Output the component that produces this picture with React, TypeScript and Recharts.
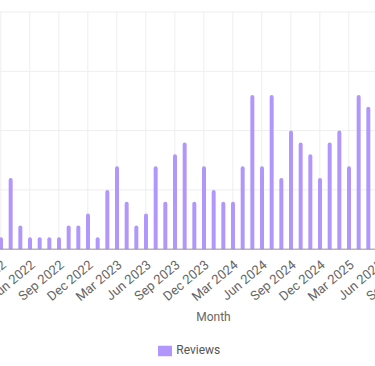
import React from 'react';
import { BarChart, Bar, XAxis, YAxis, CartesianGrid, Legend } from 'recharts';

const months = [
  'Mar 2022', 'Apr 2022', 'May 2022', 'Jun 2022', 'Jul 2022', 'Aug 2022', 'Sep 2022', 'Oct 2022', 'Nov 2022', 'Dec 2022',
  'Jan 2023', 'Feb 2023', 'Mar 2023', 'Apr 2023', 'May 2023', 'Jun 2023', 'Jul 2023', 'Aug 2023', 'Sep 2023', 'Oct 2023', 'Nov 2023', 'Dec 2023',
  'Jan 2024', 'Feb 2024', 'Mar 2024', 'Apr 2024', 'May 2024', 'Jun 2024', 'Jul 2024', 'Aug 2024', 'Sep 2024', 'Oct 2024', 'Nov 2024', 'Dec 2024',
  'Jan 2025', 'Feb 2025', 'Mar 2025', 'Apr 2025', 'May 2025', 'Jun 2025', 'Jul 2025', 'Aug 2025', 'Sep 2025', 'Oct 2025', 'Nov 2025',
];

const reviews = [
  1, 6, 2, 1, 1, 1, 1, 2, 2, 3,
  1, 5, 7, 4, 2, 3, 7, 4, 8, 9, 4, 7,
  5, 4, 4, 7, 13, 7, 13, 6, 10, 9, 8, 6,
  9, 10, 7, 13, 12, 10, 8, 9, 6, 7, 5,
];

const yTicks = [0, 5, 10, 15, 20];

const data = months.map((m, i) => ({ month: m, reviews: reviews[i] }));

export default function App() {
  return (
    <div style={{ position: 'fixed', left: 0, top: 0, width: 375, height: 366, overflow: 'hidden', background: '#fff' }}>
      <div style={{ position: 'absolute', left: -42.23, top: 0 }}>
        <BarChart
          width={483}
          height={366}
          data={data}
          margin={{ top: 12, right: 10, left: 0, bottom: 8.5 }}
          style={{ fontFamily: 'Roboto' }}
        >
          <CartesianGrid stroke="#eee" />
          <XAxis
            dataKey="month"
            interval={2}
            angle={-40}
            textAnchor="end"
            tickLine={false}
            tickMargin={4}
            height={72}
            tick={{ fontSize: 13, fill: '#666' }}
            stroke="#999"
            label={{ value: 'Month', position: 'insideBottom', offset: 0, fill: '#666', fontSize: 12 }}
          />
          <YAxis
            width={38}
            domain={[0, 20]}
            ticks={yTicks}
            tick={{ fontSize: 12, fill: '#666' }}
            axisLine={false}
            tickLine={false}
          />
          <Legend
            wrapperStyle={{ fontSize: 12, paddingTop: 21.5 }}
            formatter={(v: string) => <span style={{ color: '#555' }}>{v}</span>}
          />
          <Bar dataKey="reviews" name="Reviews" fill="#b197fc" barSize={4} radius={[2, 2, 0, 0]} isAnimationActive={false} />
        </BarChart>
      </div>
    </div>
  );
}
